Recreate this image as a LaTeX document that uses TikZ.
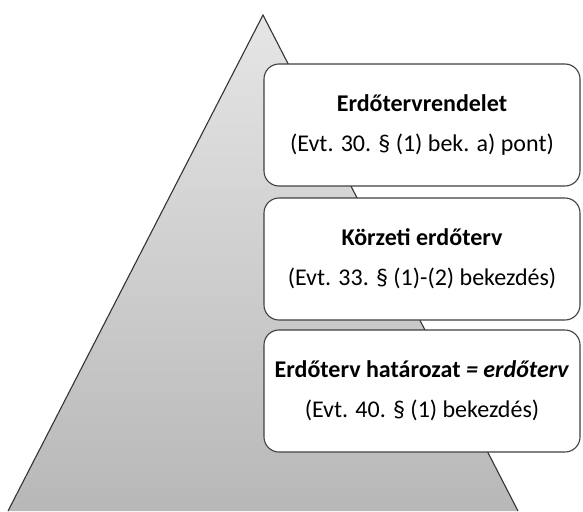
\documentclass[tikz,border=0pt]{standalone}
\usepackage{fontspec}
\setmainfont{Carlito}
\usepackage{tikz}

\begin{document}
\begin{tikzpicture}[x=1pt,y=-1pt]
\tikzstyle{every node}+=[inner sep=0pt]
\tikzstyle{levelbox}=[draw=black!75, line width=1.1pt, fill=white, rounded corners=15pt, minimum width=316pt, minimum height=122pt, align=center, font=\fontsize{24}{40}\selectfont]
\useasboundingbox (0,0) rectangle (583,511);
\shade [top color=black!10, bottom color=black!28] (263,15) -- (518,511) -- (8,511) -- cycle;
\draw [black!80, line width=1.1pt] (8,511) -- (263,15) -- (518,511);
\node [levelbox] (rendelet) at (422,125) {\textbf{Erdőtervrendelet}\\(Evt. 30. § (1) bek. a) pont)};
\node [levelbox] (korzeti) at (422,259) {\textbf{Körzeti erdőterv}\\(Evt. 33. § (1)-(2) bekezdés)};
\node [levelbox] (hatarozat) at (422,391) {\textbf{Erdőterv határozat \textit{= erdőterv}}\\(Evt. 40. § (1) bekezdés)};
\end{tikzpicture}
\end{document}
